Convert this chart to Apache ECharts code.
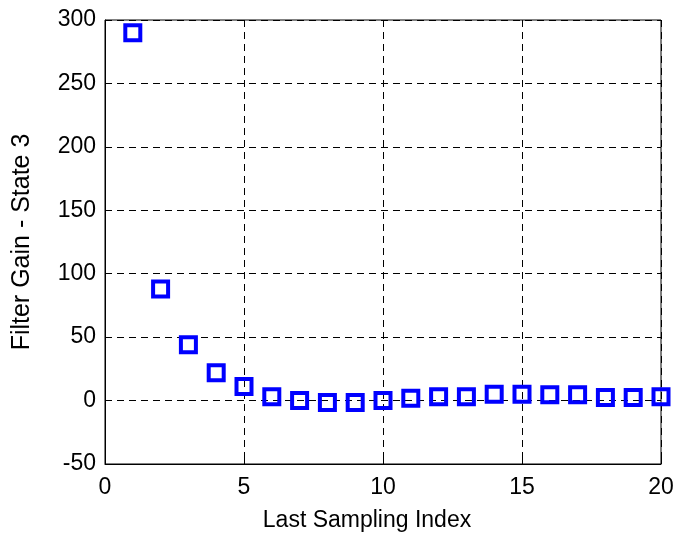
<!DOCTYPE html>
<html><head><meta charset="utf-8">
<script src="https://cdn.jsdelivr.net/npm/echarts@6/dist/echarts.min.js"></script>
<style>html,body{margin:0;padding:0;background:#fff}#c{width:681px;height:537px}</style>
</head><body><div id="c"></div>
<script>
const samplingIndex = [1,2,3,4,5,6,7,8,9,10,11,12,13,14,15,16,17,18,19,20];
const filterGain = [290,88,44,22,11,3,0,-1.5,-1.5,0,1.8,3,3,5,5,4.5,4.5,2.5,2.5,3];
const xTicks = [0,5,10,15,20];
const yTicks = [-50,0,50,100,150,200,250,300];

const chart = echarts.init(document.getElementById('c'));
const font = 'Liberation Sans, Arial, sans-serif';
const grid = {type:[7,5], color:'#000', width:1};
chart.setOption({
  animation:false,
  grid:{left:105, top:20, right:20, bottom:71, show:true, borderColor:'#000', borderWidth:1, backgroundColor:'#fff'},
  xAxis:{type:'value', min:xTicks[0], max:xTicks[xTicks.length-1], interval:5,
    name:'Last Sampling Index', nameLocation:'middle', nameGap:45,
    nameTextStyle:{fontFamily:font, fontSize:23, color:'#000', padding:[0,32,0,0]},
    axisLine:{onZero:false, lineStyle:{color:'#000'}},
    axisTick:{show:true, inside:true, length:5, lineStyle:{color:'#000'}},
    axisLabel:{fontFamily:font, fontSize:23, color:'#000', margin:12},
    splitLine:{show:true, lineStyle:grid}},
  yAxis:{type:'value', min:yTicks[0], max:yTicks[yTicks.length-1], interval:50,
    name:'Filter Gain - State 3', nameLocation:'middle', nameGap:70,
    nameTextStyle:{fontFamily:font, fontSize:25, color:'#000'},
    axisLine:{show:true, onZero:false, lineStyle:{color:'#000'}},
    axisTick:{show:true, inside:true, length:5, lineStyle:{color:'#000'}},
    axisLabel:{fontFamily:font, fontSize:23, color:'#000', margin:9},
    splitLine:{show:true, lineStyle:grid}},
  series:[{type:'scatter', data:samplingIndex.map((x,i)=>[x, filterGain[i]]),
    symbol:'rect', symbolSize:15,
    itemStyle:{color:'rgba(0,0,0,0)', borderColor:'#0000ff', borderWidth:4, opacity:1}}]
});
</script></body></html>
